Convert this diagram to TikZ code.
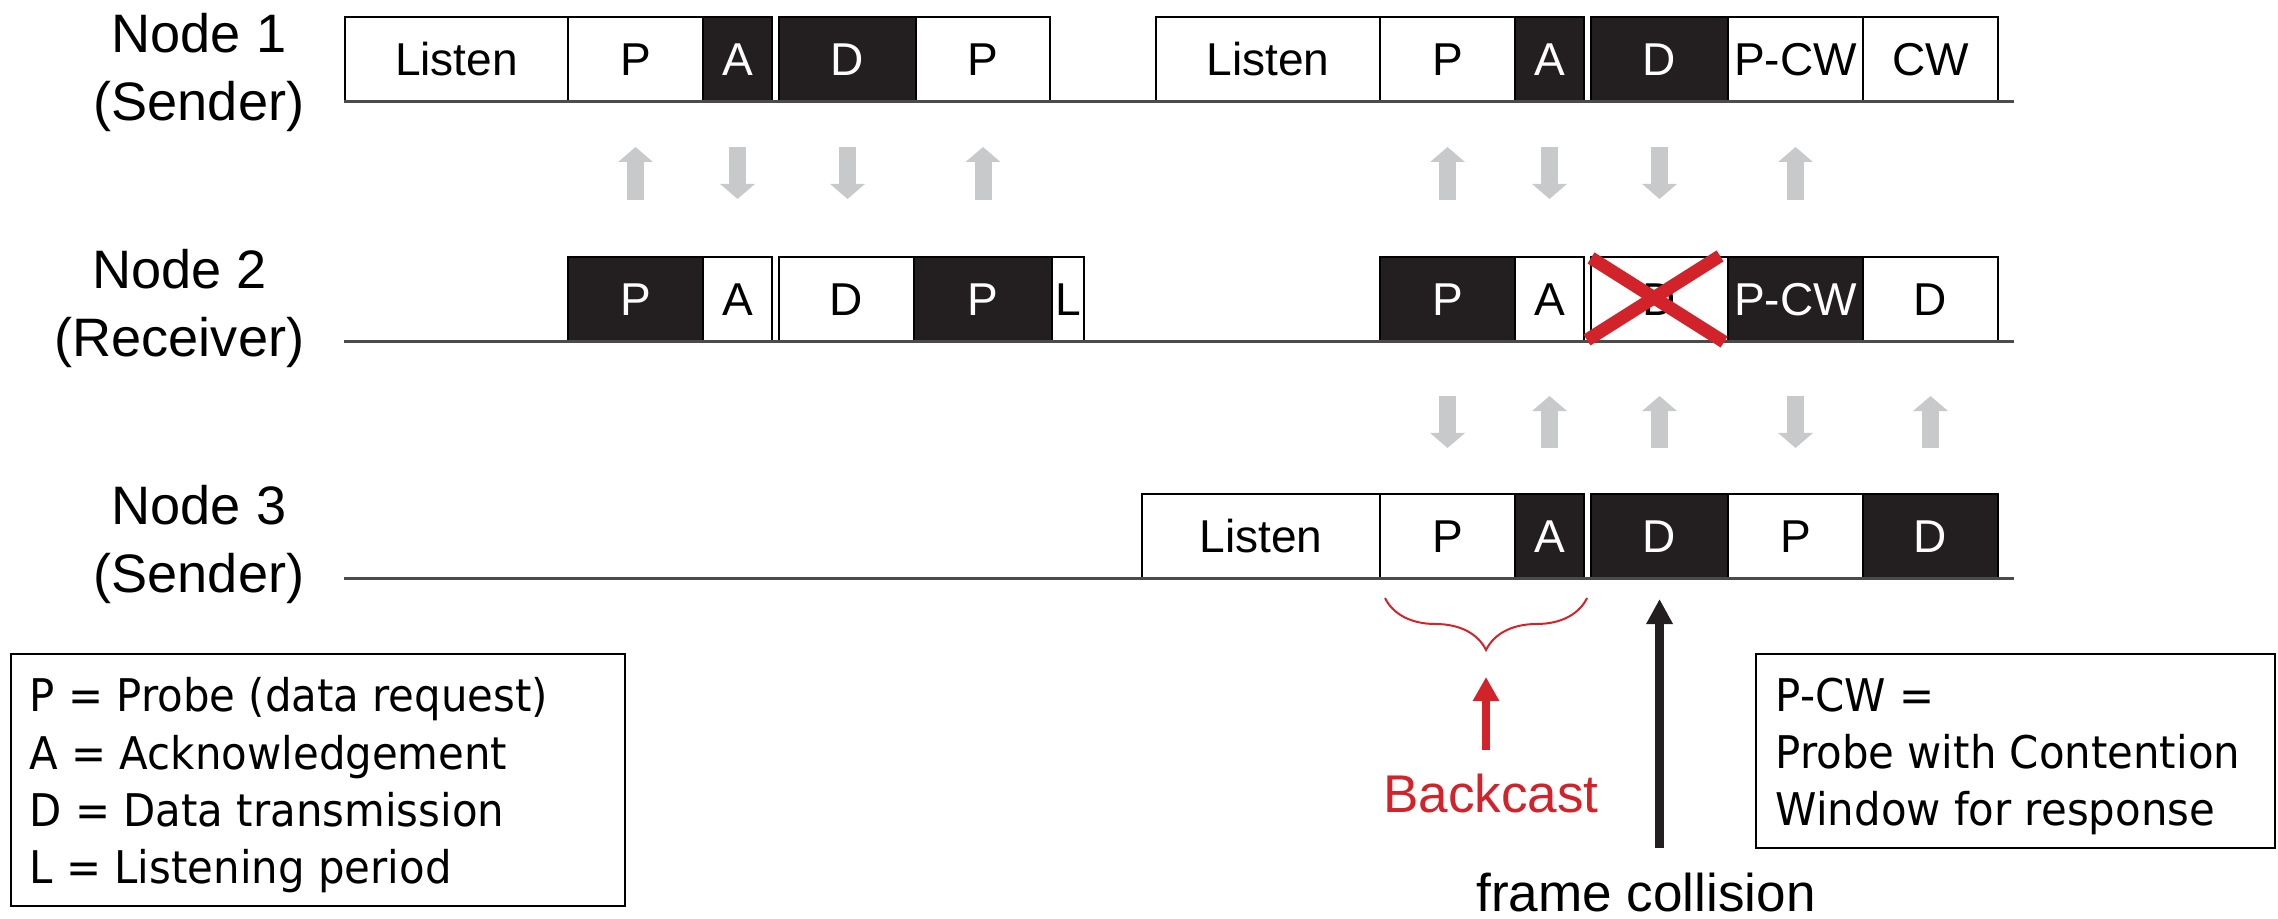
\documentclass[tikz,border=0pt]{standalone}
\usepackage{fontspec}
\setmainfont{Liberation Sans}
\newfontfamily\legfont{DejaVu Sans}[FakeStretch=0.93]
\usetikzlibrary{arrows.meta,decorations.pathreplacing}

\definecolor{sigGray}{RGB}{200,201,203}
\definecolor{collRed}{RGB}{210,35,42}
\definecolor{frameBlack}{RGB}{35,31,32}
\definecolor{lineGray}{RGB}{75,75,75}

\begin{document}
\begin{tikzpicture}[x=0.01cm,y=-0.01cm,
   slot/.style={draw=black,line width=0.02cm,outer sep=0pt,inner sep=0pt,
     minimum height=0.85cm,anchor=south west,font=\fontsize{13.1}{15}\selectfont},
   wslot/.style={slot,fill=white},
   bslot/.style={slot,fill=frameBlack,text=white},
   rowline/.style={draw=lineGray,line width=0.03cm},
   nodelab/.style={anchor=north east,inner sep=0pt,align=center,font=\fontsize{15.4}{19.1}\selectfont},
   sigarrow/.style={draw=sigGray,line width=0.17cm,-{Triangle[width=0.34cm,length=0.15cm]}},
   bkarrow/.style={draw=collRed,line width=0.08cm,-{Triangle[width=0.25cm,length=0.24cm]}},
   hitarrow/.style={draw=frameBlack,line width=0.09cm,-{Triangle[width=0.25cm,length=0.25cm]}},
   xmark/.style={draw=collRed,line width=0.13cm},
   bkbrace/.style={draw=collRed,line width=0.02cm,decorate,decoration={brace,amplitude=0.52cm}},
   bigtext/.style={anchor=base,inner sep=0pt,font=\fontsize{15.1}{18}\selectfont},
   legbox/.style={draw=black,line width=0.02cm,anchor=north west,inner sep=0pt},
   legtext/.style={anchor=north west,inner sep=0pt,align=left,font=\legfont\fontsize{12.8}{16.3}\selectfont}
]
   \useasboundingbox (0,0) rectangle (2278,919);

   % node names
   \node[nodelab] (lab1) at (305,13) {Node 1\\(Sender)};
   \node[nodelab] (lab2) at (305,249) {Node 2\\(Receiver)};
   \node[nodelab] (lab3) at (305,485) {Node 3\\(Sender)};

   % node 1
   \node[wslot,minimum width=2.23cm] (n1a) at (345,102) {Listen};
   \node[wslot,minimum width=1.35cm] (n1b) at (568,102) {P};
   \node[bslot,minimum width=0.69cm] (n1c) at (703,102) {A};
   \node[bslot,minimum width=1.37cm] (n1d) at (779,102) {D};
   \node[wslot,minimum width=1.34cm] (n1e) at (916,102) {P};
   \node[wslot,minimum width=2.24cm] (n1f) at (1156,102) {Listen};
   \node[wslot,minimum width=1.35cm] (n1g) at (1380,102) {P};
   \node[bslot,minimum width=0.69cm] (n1h) at (1515,102) {A};
   \node[bslot,minimum width=1.37cm] (n1i) at (1591,102) {D};
   \node[wslot,minimum width=1.35cm] (n1j) at (1728,102) {P-CW};
   \node[wslot,minimum width=1.35cm] (n1k) at (1863,102) {CW};

   % node 2
   \node[bslot,minimum width=1.35cm] (n2a) at (568,342) {P};
   \node[wslot,minimum width=0.69cm] (n2b) at (703,342) {A};
   \node[wslot,minimum width=1.35cm] (n2c) at (779,342) {D};
   \node[bslot,minimum width=1.38cm] (n2d) at (914,342) {P};
   \node[wslot,minimum width=0.32cm] (n2e) at (1052,342) {L};
   \node[bslot,minimum width=1.35cm] (n2f) at (1380,342) {P};
   \node[wslot,minimum width=0.69cm] (n2g) at (1515,342) {A};
   \node[wslot,minimum width=1.37cm] (n2h) at (1591,342) {D};
   \node[bslot,minimum width=1.35cm] (n2i) at (1728,342) {P-CW};
   \node[wslot,minimum width=1.35cm] (n2j) at (1863,342) {D};

   % node 3
   \node[wslot,minimum width=2.38cm] (n3a) at (1142,579) {Listen};
   \node[wslot,minimum width=1.35cm] (n3b) at (1380,579) {P};
   \node[bslot,minimum width=0.69cm] (n3c) at (1515,579) {A};
   \node[bslot,minimum width=1.37cm] (n3d) at (1591,579) {D};
   \node[wslot,minimum width=1.35cm] (n3e) at (1728,579) {P};
   \node[bslot,minimum width=1.35cm] (n3f) at (1863,579) {D};

   \foreach \y in {102,342,579}
      \draw[rowline] (344,\y) -- (2014,\y);

   % signals
   \foreach \n in {n1b,n1e,n1g,n1j}
      \draw[sigarrow] (\n |- 0,200) -- (\n |- 0,147);
   \foreach \n in {n1c,n1d,n1h,n1i}
      \draw[sigarrow] (\n |- 0,147) -- (\n |- 0,199);
   \foreach \n in {n2g,n2h,n2j}
      \draw[sigarrow] (\n |- 0,448) -- (\n |- 0,396);
   \foreach \n in {n2f,n2i}
      \draw[sigarrow] (\n |- 0,396) -- (\n |- 0,448);

   % collision
   \draw[xmark] ([shift={(0,1)}]n2h.north west) -- ([shift={(-4,0)}]n2h.south east);
   \draw[xmark] ([shift={(-8,-1)}]n2h.north east) -- ([shift={(-4,-2)}]n2h.south west);

   \draw[bkbrace] ([shift={(3,19)}]n3c.south east) -- ([shift={(5,19)}]n3b.south west);
   \coordinate (bktip) at (1486,650);
   \node[bigtext,text=collRed] (bc) at (1491,813) {Backcast};
   \draw[bkarrow,shorten <=0.24cm,shorten >=0.27cm] (bktip |- bc.north) -- (bktip);

   \node[bigtext] (fc) at (1646,912) {frame collision};
   \draw[hitarrow,shorten <=0.25cm,shorten >=0.2cm] (n3d.south |- fc.north) -- (n3d.south);

   % legends
   \node[legbox,minimum width=6.14cm,minimum height=2.52cm] (keyl) at (10,653) {};
   \node[legtext] (keyltxt) at (29,677) {P = Probe (data request)\\A = Acknowledgement\\D = Data transmission\\L = Listening period};
   \node[legbox,minimum width=5.19cm,minimum height=1.94cm] (keyr) at (1755,653) {};
   \node[legtext] (keyrtxt) at (1775,677) {P-CW =\\Probe with Contention\\Window for response};
\end{tikzpicture}
\end{document}
